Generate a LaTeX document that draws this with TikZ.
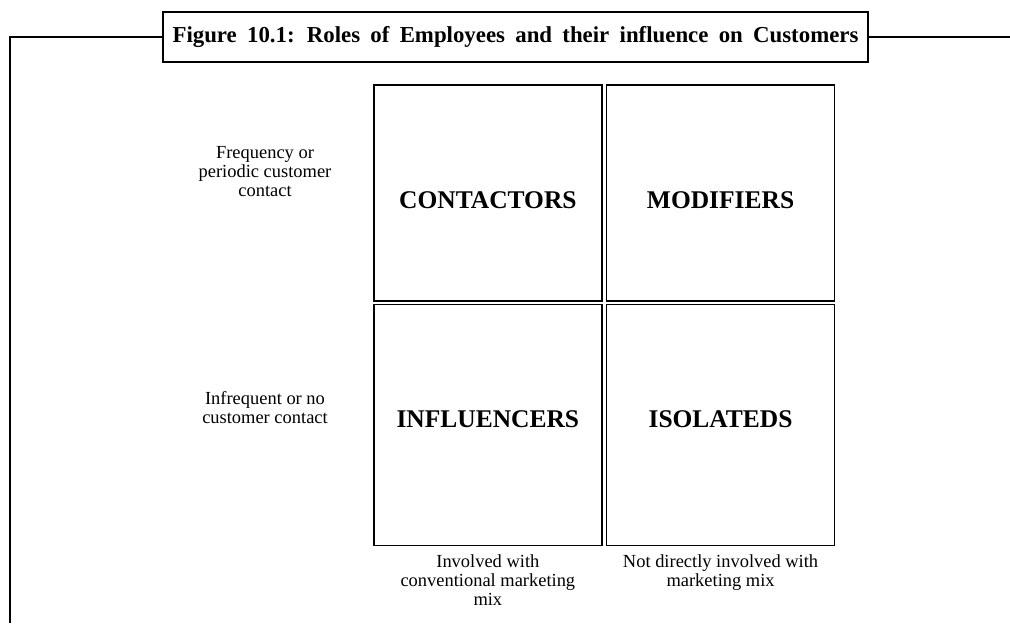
\documentclass[tikz,border=0pt]{standalone}
\usepackage{fontspec}
\setmainfont{Liberation Serif}
\usetikzlibrary{positioning}

\begin{document}
\begin{tikzpicture}[
        x=0.02cm, y=-0.02cm,
        cell/.style={rectangle, draw, line width=1pt, minimum width=4.56cm, inner sep=0pt, align=center, font=\bfseries\fontsize{14.5}{17}\selectfont},
        side/.style={inner sep=0pt, align=center, font=\fontsize{10.5}{10.8}\selectfont},
        frame/.style={line width=1.4pt}
    ]
        \useasboundingbox (0,0) rectangle (1010,623);
        \node[draw, line width=1.6pt, minimum width=14.1cm, minimum height=1cm, font=\bfseries\fontsize{13}{15}\selectfont] (title) at (515.5,37) {\spaceskip=0.45em plus 0.1em\relax Figure 10.1: Roles of Employees and their influence on Customers};
        \coordinate (topright) at (1010,37);
        \coordinate (cornerleft) at (10,37);
        \coordinate (bottomleft) at (10,623);
        \draw[frame] (title.west) -- (cornerleft) -- (bottomleft);
        \draw[frame] (title.east) -- (topright);

        \node[cell, minimum height=4.32cm, anchor=north west] (contactors) at (373,84) {\raisebox{-9pt}[0pt][0pt]{CONTACTORS}};
        \node[cell, minimum height=4.32cm, right=0.06cm of contactors] (modifiers) {\raisebox{-9pt}[0pt][0pt]{MODIFIERS}};
        \node[cell, minimum height=4.82cm, below=0.04cm of contactors] (influencers) {\raisebox{-1.5pt}[0pt][0pt]{INFLUENCERS}};
        \node[cell, minimum height=4.82cm, right=0.06cm of influencers] (isolateds) {\raisebox{-1.5pt}[0pt][0pt]{ISOLATEDS}};

        \node[side] (frequent) at (265,172) {Frequency or\\periodic customer\\contact};
        \node[side] (infrequent) at (265,408) {Infrequent or no\\customer contact};
        \node[side, below=0.16cm of influencers] (involved) {Involved with\\conventional marketing\\mix};
        \node[side, below=0.16cm of isolateds] (notinvolved) {Not directly involved with\\marketing mix};
    \end{tikzpicture}
\end{document}
